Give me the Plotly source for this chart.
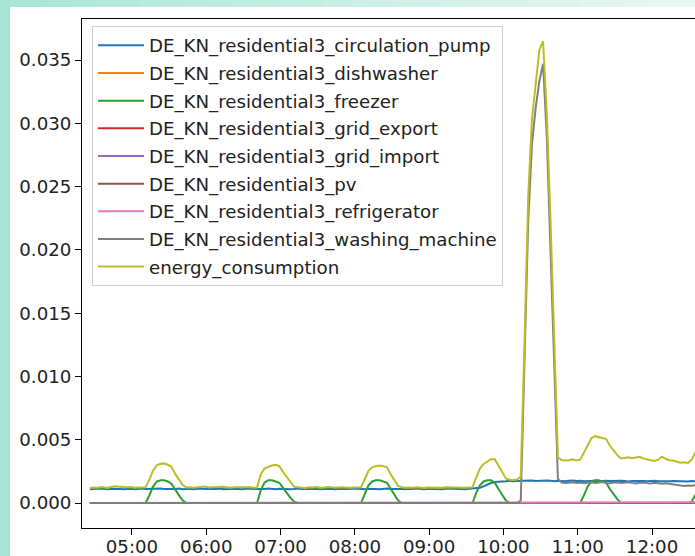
import plotly.graph_objects as go
import pandas as pd

# ---------------- data ----------------
times = pd.date_range("2016-05-10 04:26", periods=165, freq="3min")

names = [
    "DE_KN_residential3_circulation_pump",
    "DE_KN_residential3_dishwasher",
    "DE_KN_residential3_freezer",
    "DE_KN_residential3_grid_export",
    "DE_KN_residential3_grid_import",
    "DE_KN_residential3_pv",
    "DE_KN_residential3_refrigerator",
    "DE_KN_residential3_washing_machine",
    "energy_consumption",
]

circulation_pump = [
    0.00108, 0.00112, 0.00110, 0.00114, 0.00111, 0.00109, 0.00113, 0.00115, 0.00111, 0.00108,
    0.00110, 0.00113, 0.00109, 0.00111, 0.00114, 0.00110, 0.00112, 0.00108, 0.00113, 0.00115,
    0.00111, 0.00109, 0.00112, 0.00110, 0.00114, 0.00108, 0.00111, 0.00113, 0.00109, 0.00112,
    0.00115, 0.00110, 0.00108, 0.00112, 0.00111, 0.00114, 0.00109, 0.00112, 0.00110, 0.00113,
    0.00111, 0.00108, 0.00112, 0.00114, 0.00110, 0.00109, 0.00113, 0.00111, 0.00115, 0.00110,
    0.00108, 0.00112, 0.00110, 0.00113, 0.00109, 0.00111, 0.00114, 0.00110, 0.00108, 0.00112,
    0.00111, 0.00113, 0.00109, 0.00110, 0.00114, 0.00112, 0.00108, 0.00111, 0.00113, 0.00110,
    0.00109, 0.00112, 0.00115, 0.00111, 0.00108, 0.00110, 0.00113, 0.00111, 0.00109, 0.00112,
    0.00114, 0.00110, 0.00108, 0.00111, 0.00113, 0.00109, 0.00112, 0.00110, 0.00114, 0.00111,
    0.00108, 0.00112, 0.00110, 0.00113, 0.00111, 0.00109, 0.00114, 0.00112, 0.00110, 0.00113,
    0.00111, 0.00109, 0.00112, 0.00114, 0.00113, 0.00120, 0.00132, 0.00146, 0.00158, 0.00166,
    0.00170, 0.00168, 0.00172, 0.00175, 0.00171, 0.00174, 0.00176, 0.00172, 0.00175, 0.00178,
    0.00174, 0.00176, 0.00173, 0.00177, 0.00175, 0.00172, 0.00176, 0.00174, 0.00171, 0.00175,
    0.00177, 0.00173, 0.00176, 0.00172, 0.00174, 0.00178, 0.00175, 0.00171, 0.00174, 0.00176,
    0.00173, 0.00175, 0.00172, 0.00176, 0.00174, 0.00170, 0.00173, 0.00175, 0.00172, 0.00174,
    0.00171, 0.00174, 0.00176, 0.00172, 0.00170, 0.00173, 0.00171, 0.00174, 0.00172, 0.00169,
    0.00172, 0.00170, 0.00173, 0.00171, 0.00170,
]

dishwasher = [0.0] * 165
grid_export = [0.0] * 165
grid_import = [0.0] * 165
pv = [0.0] * 165

freezer = [
    0, 0, 0, 0, 0, 0, 0, 0, 0, 0,
    0, 0, 0, 0, 0, 0.0, 0.0006, 0.0013, 0.0017, 0.0018,
    0.0018, 0.0017, 0.0015, 0.0010, 0.0006, 0.0002, 0, 0, 0, 0,
    0, 0, 0, 0, 0, 0, 0, 0, 0, 0,
    0, 0, 0, 0, 0, 0.0, 0.0010, 0.0016, 0.0018, 0.0018,
    0.0017, 0.0016, 0.0012, 0.0008, 0.0004, 0.0001, 0, 0, 0, 0,
    0, 0, 0, 0, 0, 0, 0, 0, 0, 0,
    0, 0, 0, 0.0, 0.0007, 0.0014, 0.0017, 0.0018, 0.0018, 0.0017,
    0.0016, 0.0011, 0.0006, 0.0002, 0, 0, 0, 0, 0, 0,
    0, 0, 0, 0, 0, 0, 0, 0, 0, 0,
    0, 0, 0, 0.0, 0.0008, 0.0014, 0.0017, 0.0018, 0.0018, 0.0016,
    0.0011, 0.0006, 0.0002, 0, 0, 0, 0, 0, 0, 0,
    0, 0, 0, 0, 0, 0, 0, 0, 0, 0,
    0, 0, 0.0, 0.0006, 0.0013, 0.0017, 0.0018, 0.0018, 0.0017, 0.0016,
    0.0011, 0.0007, 0.0003, 0, 0, 0, 0, 0, 0, 0,
    0, 0, 0, 0, 0, 0, 0, 0, 0, 0,
    0, 0, 0.0001, 0.0006, 0.0012,
]

refrigerator = [0.0] * 117 + [0.00005] * 48

washing_machine = [0.0] * 115 + [
    0.0, 0.0002, 0.0105, 0.0222, 0.0283,
    0.0312, 0.0333, 0.0347, 0.0290, 0.0206, 0.0110, 0.0019, 0.00162, 0.00158, 0.00161,
    0.00164, 0.00159, 0.00162, 0.00157, 0.00160, 0.00163, 0.00158, 0.00161, 0.00165, 0.00159,
    0.00156, 0.00161, 0.00163, 0.00158, 0.00160, 0.00164, 0.00159, 0.00155, 0.00160, 0.00162,
    0.00157, 0.00154, 0.00159, 0.00156, 0.00152, 0.00155, 0.00150, 0.00146, 0.00142, 0.00138,
    0.00135, 0.00139, 0.00136, 0.00140, 0.00138,
]

energy_consumption = [
    0.00118, 0.00123, 0.00121, 0.00126, 0.00122, 0.00120, 0.00128, 0.00132, 0.00129, 0.00125,
    0.00124, 0.00127, 0.00121, 0.00123, 0.00126, 0.00124, 0.00185, 0.00255, 0.00298, 0.00310,
    0.00312, 0.00302, 0.00285, 0.00228, 0.00186, 0.00142, 0.00122, 0.00125, 0.00120, 0.00123,
    0.00128, 0.00131, 0.00122, 0.00124, 0.00121, 0.00126, 0.00129, 0.00124, 0.00121, 0.00125,
    0.00123, 0.00120, 0.00124, 0.00127, 0.00121, 0.00122, 0.00226, 0.00272, 0.00285, 0.00296,
    0.00302, 0.00292, 0.00245, 0.00205, 0.00162, 0.00128, 0.00125, 0.00122, 0.00119, 0.00124,
    0.00122, 0.00126, 0.00121, 0.00123, 0.00127, 0.00124, 0.00120, 0.00122, 0.00125, 0.00121,
    0.00120, 0.00123, 0.00126, 0.00124, 0.00188, 0.00255, 0.00284, 0.00292, 0.00296, 0.00290,
    0.00282, 0.00226, 0.00175, 0.00135, 0.00124, 0.00120, 0.00123, 0.00121, 0.00125, 0.00122,
    0.00119, 0.00123, 0.00121, 0.00124, 0.00122, 0.00120, 0.00125, 0.00123, 0.00121, 0.00124,
    0.00122, 0.00120, 0.00123, 0.00125, 0.00201, 0.00272, 0.00308, 0.00330, 0.00346, 0.00345,
    0.00298, 0.00240, 0.00194, 0.00184, 0.00181, 0.00185, 0.00210, 0.01250, 0.02420, 0.03030,
    0.03320, 0.03580, 0.03650, 0.03080, 0.02240, 0.01270, 0.00360, 0.00340, 0.00335, 0.00338,
    0.00345, 0.00336, 0.00342, 0.00398, 0.00462, 0.00512, 0.00528, 0.00520, 0.00516, 0.00505,
    0.00452, 0.00415, 0.00378, 0.00352, 0.00356, 0.00362, 0.00354, 0.00358, 0.00365, 0.00352,
    0.00345, 0.00338, 0.00332, 0.00342, 0.00366, 0.00348, 0.00338, 0.00335, 0.00326, 0.00318,
    0.00322, 0.00316, 0.00342, 0.00405, 0.00455,
]

series = [circulation_pump, dishwasher, freezer, grid_export, grid_import,
          pv, refrigerator, washing_machine, energy_consumption]

colors = ["#1f77b4", "#ff7f0e", "#2ca02c", "#d62728", "#9467bd",
          "#8c564b", "#e377c2", "#7f7f7f", "#bcbd22"]

y_ticks = [0.000, 0.005, 0.010, 0.015, 0.020, 0.025, 0.030, 0.035]

# ---------------- figure ----------------
FONT = "DejaVu Sans"
FS = 18.2
W, H = 695, 556
ML, MT, MB = 82, 19, 28
PW, PH = W - ML, H - MT - MB

fig = go.Figure()
for i, (nm, vals, col) in enumerate(zip(names, series, colors)):
    fig.add_trace(go.Scatter(
        x=times, y=vals, mode="lines", name=nm,
        line=dict(color=col, width=2), legendgroup=f"g{i}",
    ))

# decorative page background (teal frame around white card)
def px2x(px):
    return (px - ML) / PW

def py2y(py):
    return 1 - (py - MT) / PH

shapes = []
c0 = (168, 230, 214)
c1 = (233, 248, 244)
nseg = 30
for s in range(nseg):
    f = s / (nseg - 1)
    col = "rgb(%d,%d,%d)" % tuple(round(a + (b - a) * f) for a, b in zip(c0, c1))
    x0 = s * W / nseg
    x1 = (s + 1) * W / nseg + 0.5
    shapes.append(dict(type="rect", xref="paper", yref="paper",
                       x0=px2x(x0), x1=px2x(x1), y0=py2y(7), y1=py2y(0),
                       fillcolor=col, line=dict(width=0), layer="below"))
shapes.append(dict(type="rect", xref="paper", yref="paper",
                   x0=px2x(0), x1=px2x(10), y0=py2y(H), y1=py2y(0),
                   fillcolor="rgb(166,229,213)", line=dict(width=0), layer="below"))

fig.update_layout(
    width=W, height=H,
    margin=dict(l=ML, r=0, t=MT, b=MB, pad=0),
    paper_bgcolor="white", plot_bgcolor="white",
    font=dict(family=FONT, size=FS, color="#222222"),
    showlegend=True,
    legend=dict(
        x=px2x(92), y=py2y(26), xanchor="left", yanchor="top",
        bgcolor="rgba(255,255,255,0.85)", bordercolor="#cccccc", borderwidth=1,
        font=dict(family=FONT, size=FS, color="#222222"),
        tracegroupgap=1, itemwidth=46,
    ),
    shapes=shapes,
    xaxis=dict(
        type="date",
        range=["2016-05-10 04:19:38", "2016-05-10 12:34:43"],
        tick0="2016-05-10 05:00", dtick=3600000, tickformat="%H:%M",
        ticks="outside", ticklen=6, tickwidth=1, tickcolor="black",
        ticklabelstandoff=-4,
        showline=True, linecolor="black", linewidth=1, mirror=True,
        showgrid=False, zeroline=False, automargin=False,
    ),
    yaxis=dict(
        range=[-0.001975, 0.03824],
        tickmode="array", tickvals=y_ticks,
        ticktext=["%.3f" % v for v in y_ticks],
        ticks="outside", ticklen=6, tickwidth=1, tickcolor="black",
        showline=True, linecolor="black", linewidth=1, mirror=False,
        showgrid=False, zeroline=False, automargin=False,
    ),
)

fig.write_html(
    "out.html",
    config={"displayModeBar": False},
    post_script="document.body.style.margin='0px';document.body.style.padding='0px';",
)
